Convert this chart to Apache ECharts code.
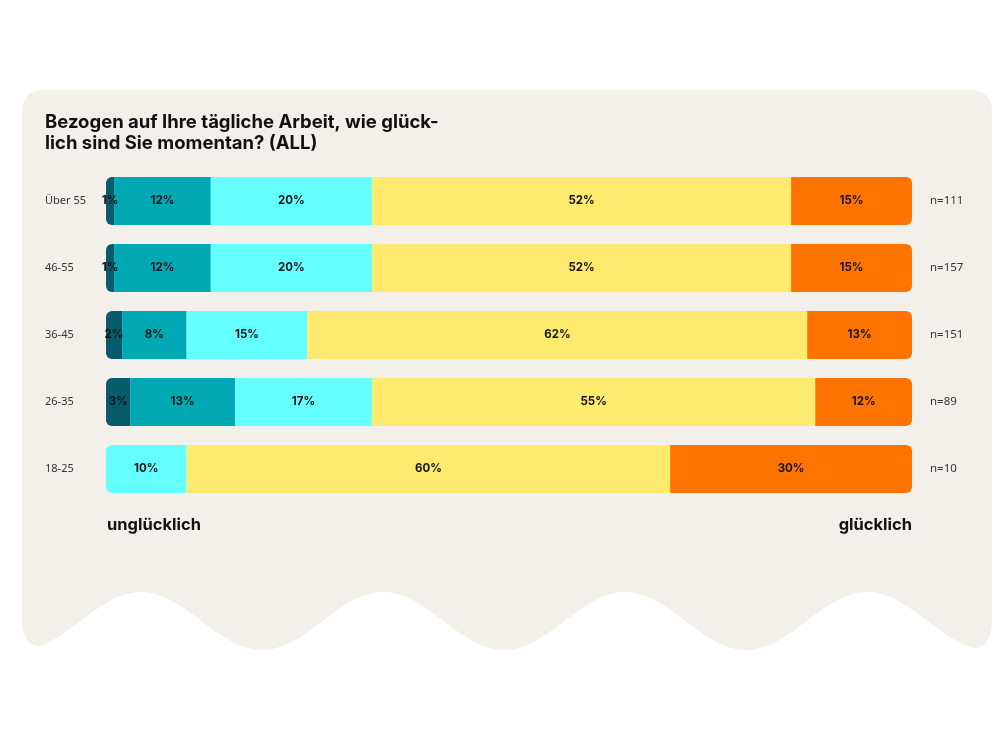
<!DOCTYPE html>
<html><head><meta charset="utf-8">
<script src="https://cdn.jsdelivr.net/npm/echarts@6/dist/echarts.min.js"></script>
<style>html,body{margin:0;padding:0;background:#fff}#c{width:1000px;height:750px}</style>
</head><body><div id="c"></div>
<script>
const categories = ['Über 55', '46-55', '36-45', '26-35', '18-25'];
const sampleSizes = ['n=111', 'n=157', 'n=151', 'n=89', 'n=10'];
const seriesNames = ['sehr unglücklich', 'unglücklich', 'neutral', 'glücklich', 'sehr glücklich'];
const s1 = [1, 1, 2, 3, 0];
const s2 = [12, 12, 8, 13, 0];
const s3 = [20, 20, 15, 17, 10];
const s4 = [52, 52, 62, 55, 60];
const s5 = [15, 15, 13, 12, 30];
const colors = ['#075b6c', '#00a8b3', '#66ffff', '#ffea70', '#ff7300'];
const titleText = 'Bezogen auf Ihre tägliche Arbeit, wie glück-\nlich sind Sie momentan? (ALL)';

const all = [s1, s2, s3, s4, s5];
const R = 6;
function itemsFor(si) {
  return all[si].map((v, ci) => {
    let first = -1, last = -1;
    for (let k = 0; k < all.length; k++) { if (all[k][ci] > 0) { if (first < 0) first = k; last = k; } }
    const br = [si === first ? R : 0, si === last ? R : 0, si === last ? R : 0, si === first ? R : 0];
    return { value: v, itemStyle: { borderRadius: br } };
  });
}

// decorative card with wavy bottom (polygon)
function wave(x) { return 621 + 29 * Math.cos(2 * Math.PI * (x - 262) / 242); }
const pts = [];
function arc(cx, cy, r, a0, a1) {
  for (let i = 0; i <= 8; i++) { const a = a0 + (a1 - a0) * i / 8; pts.push([cx + r * Math.cos(a), cy + r * Math.sin(a)]); }
}
arc(42, 110, 20, Math.PI, 1.5 * Math.PI);
arc(972, 110, 20, 1.5 * Math.PI, 2 * Math.PI);
const xr = 974, xl = 40;
function quad(p0, c, p1) { for (let i = 1; i <= 8; i++) { const t = i / 8; pts.push([(1-t)*(1-t)*p0[0] + 2*(1-t)*t*c[0] + t*t*p1[0], (1-t)*(1-t)*p0[1] + 2*(1-t)*t*c[1] + t*t*p1[1]]); } }
pts.push([992, 618]);
quad([992, 618], [992, wave(xr)], [xr, wave(xr)]);
for (let x = xr - 3; x > xl; x -= 3) pts.push([x, wave(x)]);
pts.push([xl, wave(xl)]);
quad([xl, wave(xl)], [22, wave(xl)], [22, 618]);

const chart = echarts.init(document.getElementById('c'));
chart.setOption({
  backgroundColor: '#ffffff',
  animation: false,
  title: {
    text: titleText, left: 45, top: 112, padding: 0,
    textStyle: { fontFamily: 'Inter', fontSize: 18.5, fontWeight: 'bold', color: '#111', lineHeight: 21 }
  },
  graphic: [
    { type: 'polygon', z: -10, silent: true, shape: { points: pts }, style: { fill: '#f3f0eb' } },
    { type: 'text', left: 107, top: 517, style: { text: 'unglücklich', font: 'bold 16.5px Inter', fill: '#111' } },
    { type: 'text', right: 88, top: 517, style: { text: 'glücklich', font: 'bold 16.5px Inter', fill: '#111' } }
  ],
  grid: { left: 106, right: 88, top: 167.5, height: 335 },
  xAxis: { type: 'value', min: 0, max: 100, show: false },
  yAxis: [
    { type: 'category', data: categories, inverse: true,
      axisLine: { show: false }, axisTick: { show: false },
      axisLabel: { align: 'left', margin: 61, color: '#333', fontSize: 11, fontFamily: 'Noto Sans', padding: [3, 0, 0, 0] } },
    { type: 'category', data: sampleSizes, inverse: true, position: 'right',
      axisLine: { show: false }, axisTick: { show: false },
      axisLabel: { align: 'left', margin: 18, color: '#333', fontSize: 11.5, fontFamily: 'Noto Sans' } }
  ],
  series: all.map((arr, i) => ({
    name: seriesNames[i], type: 'bar', stack: 'total', barWidth: 48,
    data: itemsFor(i),
    itemStyle: { color: colors[i] },
    label: { show: true, position: 'inside', formatter: p => p.value ? p.value + '%' : '',
      color: '#151515', fontSize: 11.5, fontWeight: 'bold', fontFamily: 'Inter' }
  }))
});
</script></body></html>
